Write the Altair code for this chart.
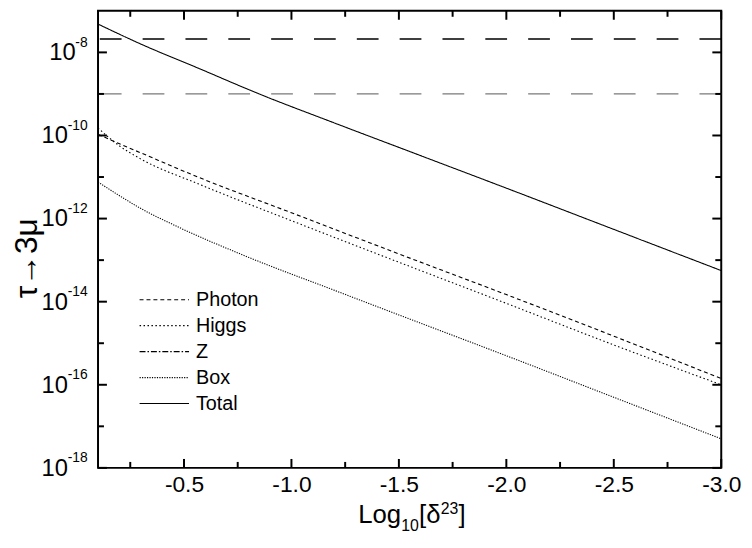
import altair as alt
import pandas as pd

FONT = "Liberation Sans"
W, H = 630, 462

SERIES = ["Photon", "Higgs", "Z", "Box", "Total"]
DASHES = [[4, 3], [1.5, 2.5], [6, 2, 1.5, 2], [1.2, 1.3], [1, 0]]
WIDTHS = [1.1, 1.1, 1.1, 1.1, 1.5]

PHOTON_X = [-0.1, -0.2, -0.3, -0.565, -1.0, -1.5, -2.0, -2.5, -3.0]
PHOTON_Y = [1.07e-10, 6.3e-11, 3.8e-11, 1.0e-11, 1.38e-12, 1.41e-13, 1.48e-14, 1.48e-15, 1.41e-16]
HIGGS_X = [-0.1, -0.2, -0.3, -0.565, -1.0, -1.5, -2.0, -2.5, -3.0]
HIGGS_Y = [1.51e-10, 5.6e-11, 2.7e-11, 6.9e-12, 8.9e-13, 8.9e-14, 9.1e-15, 9.1e-16, 1.0e-16]
Z_X = [-0.1, -1.5, -3.0]
Z_Y = [1e-19, 1e-22, 1e-25]
BOX_X = [-0.1, -0.2, -0.3, -0.464, -0.795, -1.207, -1.5, -2.0, -2.5, -3.0]
BOX_Y = [7.6e-12, 3.55e-12, 1.74e-12, 6.6e-13, 1.2e-13, 1.82e-14, 4.8e-15, 5.0e-16, 5.0e-17, 5.0e-18]
TOTAL_X = [-0.1, -0.3, -0.565, -0.854, -1.2, -1.574, -2.0, -2.5, -3.0]
TOTAL_Y = [4.8e-8, 1.58e-8, 4.2e-9, 9.8e-10, 2.0e-10, 3.7e-11, 5.4e-12, 5.5e-13, 5.6e-14]

LIMIT_NAMES = ["current", "future"]
LIMIT_VALUES = [2.1e-8, 1.0e-9]
LIMIT_COLORS = ["#000000", "#7a7a7a"]

X_MAJOR = [-0.5, -1.0, -1.5, -2.0, -2.5, -3.0]
X_MINOR = [-0.25, -0.75, -1.25, -1.75, -2.25, -2.75]
Y_MAJOR = [1e-18, 1e-16, 1e-14, 1e-12, 1e-10, 1e-8]
Y_EXPONENTS = ["-18", "-16", "-14", "-12", "-10", "-8"]
Y_MINOR = [1e-17, 1e-15, 1e-13, 1e-11, 1e-9]

Y_TITLE = "τ→3μ"
X_TITLE_PARTS = ["Log", "10", "[δ", "23", "]"]

rows = []
for name, xs, ys in [("Photon", PHOTON_X, PHOTON_Y), ("Higgs", HIGGS_X, HIGGS_Y),
                     ("Z", Z_X, Z_Y), ("Box", BOX_X, BOX_Y), ("Total", TOTAL_X, TOTAL_Y)]:
    for x, y in zip(xs, ys):
        rows.append({"series": name, "x": x, "y": y})
lines_df = pd.DataFrame(rows)

XSCALE = alt.Scale(domain=[-3.0, -0.1], reverse=True, nice=False, zero=False)
YSCALE = alt.Scale(type="log", domain=[1e-18, 1e-7], nice=False)
XAXIS = alt.Axis(values=X_MAJOR, ticks=False, domain=False, grid=False, title=None,
                 labelFont=FONT, labelFontSize=23, labelColor="black", labelPadding=6,
                 labelFlush=False, labelOverlap=False,
                 labelExpr="(datum.value < 0 ? '-' : '') + format(abs(datum.value), '.1f')")


def XE(field):
    return alt.X(field, type="quantitative", scale=XSCALE, axis=XAXIS)


def YE(field):
    return alt.Y(field, type="quantitative", scale=YSCALE, axis=None)


dash_scale = alt.Scale(domain=SERIES, range=DASHES)
width_scale = alt.Scale(domain=SERIES, range=WIDTHS)

lines = alt.Chart(lines_df).mark_line(color="black", clip=True, interpolate="monotone").encode(
    x=XE("x"), y=YE("y"),
    strokeDash=alt.StrokeDash("series:N", scale=dash_scale, legend=None),
    strokeWidth=alt.StrokeWidth("series:N", scale=width_scale, legend=None),
    detail="series:N",
)

limits = alt.Chart(pd.DataFrame({"name": LIMIT_NAMES, "v": LIMIT_VALUES})).mark_rule(
    strokeDash=[22, 21.3], strokeWidth=1.3
).encode(
    y=YE("v"),
    color=alt.Color("name:N", scale=alt.Scale(domain=LIMIT_NAMES, range=LIMIT_COLORS), legend=None),
)


def xticks(vals, length, top):
    df = pd.DataFrame({"v": vals})
    if top:
        yy, yy2 = alt.value(0), alt.value(length)
    else:
        yy, yy2 = alt.value(H), alt.value(H - length)
    return alt.Chart(df).mark_rule(color="black", strokeWidth=2).encode(x=XE("v"), y=yy, y2=yy2)


def yticks(vals, length, right):
    df = pd.DataFrame({"v": vals})
    if right:
        xx, xx2 = alt.value(W), alt.value(W - length)
    else:
        xx, xx2 = alt.value(0), alt.value(length)
    return alt.Chart(df).mark_rule(color="black", strokeWidth=2).encode(y=YE("v"), x=xx, x2=xx2)


ticks = [
    xticks(X_MAJOR, 9, False), xticks(X_MINOR, 6, False),
    xticks(X_MAJOR, 9, True), xticks(X_MINOR, 6, True),
    yticks(Y_MAJOR, 9, False), yticks(Y_MINOR, 6, False),
    yticks(Y_MAJOR, 9, True), yticks(Y_MINOR, 6, True),
]

ylab_df = pd.DataFrame({"v": Y_MAJOR, "exp": Y_EXPONENTS})
ylab_base = alt.Chart(ylab_df)
exp_text = ylab_base.mark_text(font=FONT, fontSize=14, align="right", baseline="middle", dy=-9.5).encode(
    y=YE("v"), x=alt.value(-10.5), text="exp:N")
ten_short = ylab_base.transform_filter("length(datum.exp) == 2").mark_text(
    font=FONT, fontSize=24, align="right", baseline="middle", dy=1).encode(
    y=YE("v"), x=alt.value(-22.5), text=alt.value("10"))
ten_long = ylab_base.transform_filter("length(datum.exp) == 3").mark_text(
    font=FONT, fontSize=24, align="right", baseline="middle", dy=1).encode(
    y=YE("v"), x=alt.value(-30.5), text=alt.value("10"))

title_df = pd.DataFrame({"t": [Y_TITLE]})
ytitle = alt.Chart(title_df).mark_text(font=FONT, fontSize=32, angle=270, align="center",
                                       baseline="middle").encode(
    x=alt.value(-72), y=alt.value(250), text="t:N")

part_specs = [(263, 56, 26), (306.5, 64, 16), (324.5, 56, 26), (346.5, 47, 16), (364.5, 56, 26)]
xtitle_layers = []
for i, (px, py, fs) in enumerate(part_specs):
    xtitle_layers.append(
        alt.Chart(pd.DataFrame({"t": [X_TITLE_PARTS[i]]})).mark_text(
            font=FONT, fontSize=fs, align="left", baseline="alphabetic").encode(
            x=alt.value(px), y=alt.value(H + py), text="t:N")
    )

main = alt.layer(lines, limits, *ticks, exp_text, ten_short, ten_long, ytitle, *xtitle_layers)

leg_df = pd.DataFrame({"series": SERIES})
leg_y = alt.Y("series:N", scale=alt.Scale(type="point", domain=SERIES, range=[292, 397], padding=0),
              axis=None)
leg_lines = alt.Chart(leg_df).mark_rule(color="black", strokeWidth=1.1).encode(
    x=alt.value(42), x2=alt.value(92), y=leg_y,
    strokeDash=alt.StrokeDash("series:N", scale=dash_scale, legend=None),
)
leg_text = alt.Chart(leg_df).mark_text(font=FONT, fontSize=20, align="left", baseline="middle").encode(
    x=alt.value(99), y=leg_y, text="series:N")
legend = alt.layer(leg_lines, leg_text)

chart = alt.layer(main, legend).resolve_scale(y="independent").properties(
    width=W, height=H,
    padding={"left": 91, "top": 0, "right": 23, "bottom": 66},
    autosize=alt.AutoSizeParams(type="none"),
    background="white",
).configure_view(stroke="black", strokeWidth=2)

chart.save("out.html", embed_options={"renderer": "svg", "actions": False})
